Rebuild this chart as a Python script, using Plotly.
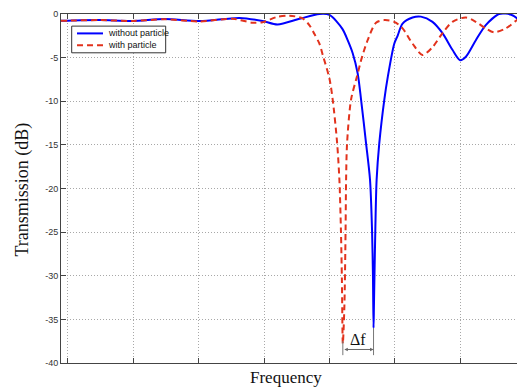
import numpy as np
import plotly.graph_objects as go

# ---- data (frequency in arbitrary grid units) ----
freq_without = [-0.107, 0.0, 0.489, 0.992, 1.481, 2.015, 2.626, 2.977, 3.206, 3.542,
                3.847, 4.0, 4.198, 4.279, 4.356, 4.432, 4.484, 4.560, 4.621, 4.652,
                4.666, 4.675, 4.682, 4.702, 4.722, 4.763, 4.840, 4.893, 4.992, 5.043,
                5.119, 5.272, 5.400, 5.577, 5.730, 5.882, 6.0, 6.087, 6.240, 6.392,
                6.595, 6.698, 6.824, 6.977]
trans_without = [-0.78, -0.76, -0.70, -0.80, -0.58, -0.81, -0.45, -0.80, -1.20, -0.55,
                 0.0, -0.1, -1.7, -3.0, -4.5, -6.8, -9.8, -14.8, -19.0, -24.8,
                 -30.0, -36.0, -33.0, -24.8, -19.0, -14.8, -9.8, -7.2, -3.4, -2.5,
                 -1.1, -0.4, -0.3, -0.9, -2.2, -4.1, -5.3, -4.9, -3.0, -1.27,
                 0.0, 0.05, -0.24, -1.27]

freq_with = [-0.107, 0.0, 0.489, 0.992, 1.481, 2.015, 2.519, 2.824, 2.977, 3.191,
             3.389, 3.588, 3.695, 3.771, 3.847, 3.898, 4.0, 4.050, 4.118, 4.153,
             4.176, 4.191, 4.205, 4.229, 4.247, 4.255, 4.270, 4.331, 4.420, 4.496,
             4.585, 4.713, 4.840, 4.992, 5.119, 5.272, 5.424, 5.577, 5.730, 5.882,
             6.087, 6.240, 6.392, 6.519, 6.698, 6.901, 6.977]
trans_with = [-0.78, -0.76, -0.70, -0.80, -0.60, -0.85, -0.55, -1.0, -0.95, -0.35,
              -0.2, -0.5, -1.3, -2.3, -3.4, -4.7, -7.4, -9.8, -14.8, -19.1,
              -24.8, -30.5, -37.8, -33.5, -24.8, -19.0, -14.8, -9.8, -7.2, -5.0,
              -3.0, -1.0, -0.7, -0.9, -1.65, -3.4, -4.7, -3.8, -2.2, -0.9,
              -0.4, -0.9, -1.65, -2.1, -1.65, -0.5, -0.13]

series_names = ["without particle", "with particle"]
x_tick_vals = [0, 1, 2, 3, 4, 5, 6, 7]
y_tick_vals = [-40, -35, -30, -25, -20, -15, -10, -5, 0]
y_tick_labels = ["-40", "-35", "-30", "-25", "-20", "-15", "-10", "-5", "0"]

SANS = "Liberation Sans, Arial, Helvetica, sans-serif"
SERIF = "Liberation Serif, Times New Roman, serif"

styles = [
    dict(color="#0000FF", width=2, dash="solid"),
    dict(color="#E2321C", width=2, dash="6px,4px"),
]

fig = go.Figure()
for xs, ys, name, st in zip([freq_without, freq_with], [trans_without, trans_with],
                            series_names, styles):
    fig.add_trace(go.Scatter(
        x=xs, y=ys, mode="lines", name=name, showlegend=False,
        line=dict(color=st["color"], width=st["width"], dash=st["dash"],
                  shape="spline", smoothing=0.8)))

# delta-f marker derived from the two dips
i_b = int(np.argmin(trans_without))
i_r = int(np.argmin(trans_with))
xb, yb = freq_without[i_b], trans_without[i_b]
xr, yr = freq_with[i_r], trans_with[i_r]
y_bottom = -39.1
y_arrow = -38.45

shapes = [
    dict(type="line", xref="x", yref="y", x0=xr, x1=xr, y0=yr + 0.3, y1=y_bottom,
         line=dict(color="#777777", width=1)),
    dict(type="line", xref="x", yref="y", x0=xb, x1=xb, y0=yb, y1=y_bottom,
         line=dict(color="#777777", width=1)),
]

annotations = [
    dict(x=xb, y=y_arrow, ax=xr, ay=y_arrow, xref="x", yref="y", axref="x", ayref="y",
         text="", showarrow=True, arrowhead=2, startarrowhead=2, arrowside="end+start",
         arrowsize=0.7, arrowwidth=1, arrowcolor="#666666"),
    dict(x=(xb + xr) / 2, y=-37.3, xref="x", yref="y", text="Δf", showarrow=False,
         font=dict(family=SERIF, size=16, color="#111111"), yanchor="middle"),
    dict(x=0.486, y=0, xref="paper", yref="paper", yshift=-14, text="Frequency",
         showarrow=False, font=dict(family=SERIF, size=17, color="#111111"),
         xanchor="center", yanchor="middle"),
    dict(x=0, y=0.497, xref="paper", yref="paper", xshift=-38, text="Transmission (dB)",
         showarrow=False, textangle=-90, font=dict(family=SERIF, size=18, color="#111111"),
         xanchor="center", yanchor="middle"),
]

# legend box (drawn in paper coordinates, like the MATLAB legend)
leg_x0, leg_x1, leg_y0, leg_y1 = 0.0231, 0.2261, 0.8888, 0.9653
shapes.append(dict(type="rect", xref="paper", yref="paper", x0=leg_x0, x1=leg_x1,
                   y0=leg_y0, y1=leg_y1, fillcolor="white",
                   line=dict(color="#333333", width=1), layer="above"))
for k, (name, st) in enumerate(zip(series_names, styles)):
    yy = 0.9444 - k * 0.0336
    shapes.append(dict(type="line", xref="paper", yref="paper", x0=0.0346, x1=0.0907,
                       y0=yy, y1=yy, layer="above",
                       line=dict(color=st["color"], width=st["width"],
                                 dash=st["dash"])))
    annotations.append(dict(x=0.0972, y=yy, xref="paper", yref="paper", text=name,
                            showarrow=False, xanchor="left", yanchor="middle",
                            font=dict(family=SANS, size=9, color="#111111")))

axis_common = dict(
    showline=True, linecolor="#444444", linewidth=1, mirror="allticks",
    ticks="inside", ticklen=5, tickwidth=1, tickcolor="#444444",
    showgrid=True, gridcolor="#a8a8a8", gridwidth=1, griddash="1px,2px",
    zeroline=False,
)

# page body has an 8px margin: size/margins compensate so the plot lands where intended
fig.update_layout(
    width=517, height=383,
    margin=dict(l=53, r=1, t=6, b=28),
    paper_bgcolor="white", plot_bgcolor="white",
    showlegend=False,
    shapes=shapes, annotations=annotations,
)
fig.update_xaxes(range=[-0.107, 6.977], tickvals=x_tick_vals, showticklabels=False,
                 **axis_common)
fig.update_yaxes(range=[-40, 0], tickvals=y_tick_vals, ticktext=y_tick_labels,
                 tickfont=dict(family=SANS, size=9, color="#333333"), **axis_common)

fig.write_html("out.html")
